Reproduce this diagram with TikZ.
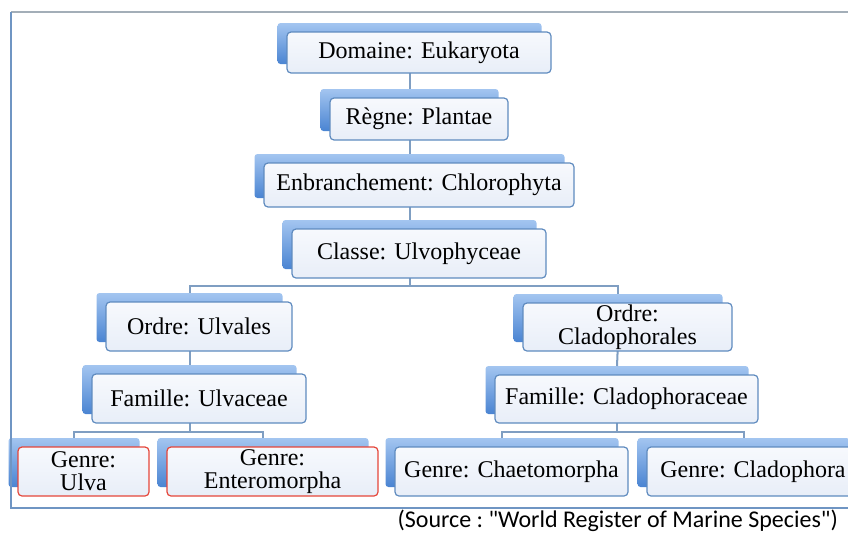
\documentclass[tikz,border=0pt]{standalone}
\usepackage{fontspec}
\setmainfont{Liberation Serif}
\newfontfamily\srcfont{Carlito}
\definecolor{backtop}{HTML}{A3C5F0}
\definecolor{backbot}{HTML}{4A84D2}
\definecolor{fronttop}{HTML}{F7F9FD}
\definecolor{frontbot}{HTML}{E8EEF8}
\definecolor{frontline}{HTML}{5F8BBF}
\definecolor{redline}{HTML}{E5463A}
\definecolor{connline}{HTML}{7F9EC2}
\definecolor{framegray}{HTML}{A3AEB8}
\definecolor{frameblue}{HTML}{6F95C3}
\tikzset{
  backbox/.style={rounded corners=3pt, top color=backtop, bottom color=backbot, draw=none, inner sep=0pt, outer sep=0pt},
  frontbox/.style={rounded corners=4pt, top color=fronttop, bottom color=frontbot, draw=frontline, line width=1.2pt, inner sep=0pt, outer sep=0pt, align=center, font=\fontsize{24}{23}\selectfont},
  redbox/.style={frontbox, draw=redline},
  conn/.style={draw=connline, line width=2pt},
}
\begin{document}
\begin{tikzpicture}[x=1pt, y=-1pt]
\clip (0,0) rectangle (848,533);
% back boxes
\node[backbox, minimum width=264pt, minimum height=41pt] (domb) at (409.5,43.5) {};
\node[backbox, minimum width=178pt, minimum height=42pt] (regb) at (409.5,110) {};
\node[backbox, minimum width=310pt, minimum height=44pt] (enbb) at (409.5,176) {};
\node[backbox, minimum width=254pt, minimum height=49pt] (clab) at (409.5,244.5) {};
\node[backbox, minimum width=186pt, minimum height=49pt] (ord1b) at (189.5,317.5) {};
\node[backbox, minimum width=214pt, minimum height=49pt] (fam1b) at (189.5,389.5) {};
\node[backbox, minimum width=131pt, minimum height=49pt] (ulvab) at (74,462.5) {};
\node[backbox, minimum width=211pt, minimum height=49pt] (entb) at (263,462.5) {};
\node[backbox, minimum width=209pt, minimum height=48pt] (ord2b) at (618,318) {};
\node[backbox, minimum width=263pt, minimum height=48pt] (fam2b) at (617,390) {};
\node[backbox, minimum width=233pt, minimum height=49pt] (chab) at (502,462.5) {};
\node[backbox, minimum width=212pt, minimum height=49pt] (cldb) at (743.5,462.5) {};
% connectors
\draw[conn] (domb.south) -- (regb.north);
\draw[conn] (regb.south) -- (enbb.north);
\draw[conn] (enbb.south) -- (clab.north);
\draw[conn] (clab.south) -- ++(0,17) -| (ord1b.north);
\draw[conn] (clab.south) -- ++(0,17) -| (ord2b.north);
\draw[conn] (ord1b.south) -- (fam1b.north);
\draw[conn] (ord2b.south) -- (fam2b.north);
\draw[conn] (fam1b.south) -- ++(0,18) -| (ulvab.north);
\draw[conn] (fam1b.south) -- ++(0,18) -| (entb.north);
\draw[conn] (fam2b.south) -- ++(0,18) -| (chab.north);
\draw[conn] (fam2b.south) -- ++(0,18) -| (cldb.north);
% front boxes
\node[frontbox, minimum width=264pt, minimum height=41pt] (dom) at (419,52.5) {Domaine: Eukaryota};
\node[frontbox, minimum width=178pt, minimum height=42pt] (reg) at (419,119) {Règne: Plantae};
\node[frontbox, minimum width=310pt, minimum height=44pt] (enb) at (419,185) {Enbranchement: Chlorophyta};
\node[frontbox, minimum width=254pt, minimum height=49pt] (cla) at (419,253.5) {Classe: Ulvophyceae};
\node[frontbox, minimum width=186pt, minimum height=49pt] (ord1) at (199,326.5) {Ordre: Ulvales};
\node[frontbox, minimum width=214pt, minimum height=49pt] (fam1) at (199,398.5) {Famille: Ulvaceae};
\node[redbox, minimum width=131pt, minimum height=49pt] (ulva) at (83.5,471.5) {Genre:\\Ulva};
\node[redbox, minimum width=211pt, minimum height=49pt] (ent) at (272.5,471.5) {Genre:\\Enteromorpha};
\node[frontbox, minimum width=209pt, minimum height=48pt] (ord2) at (627.5,327) {Ordre:\\Cladophorales};
\node[frontbox, minimum width=263pt, minimum height=48pt] (fam2) at (626.5,399) {Famille: Cladophoraceae};
\node[frontbox, minimum width=233pt, minimum height=49pt] (cha) at (511.5,471.5) {Genre: Chaetomorpha};
\node[frontbox, minimum width=212pt, minimum height=49pt] (cld) at (753,471.5) {Genre: Cladophora};
% frame
\draw[framegray, line width=1.5pt] (11,12) -- (848,12);
\draw[frameblue, line width=1.5pt] (848,508) -- (11,508) -- (11,12);
% source
\node[anchor=base east, inner sep=0pt, font=\srcfont\fontsize{24}{28}\selectfont] (src) at (838,527) {(Source :~"World Register of Marine Species")};
\end{tikzpicture}
\end{document}
